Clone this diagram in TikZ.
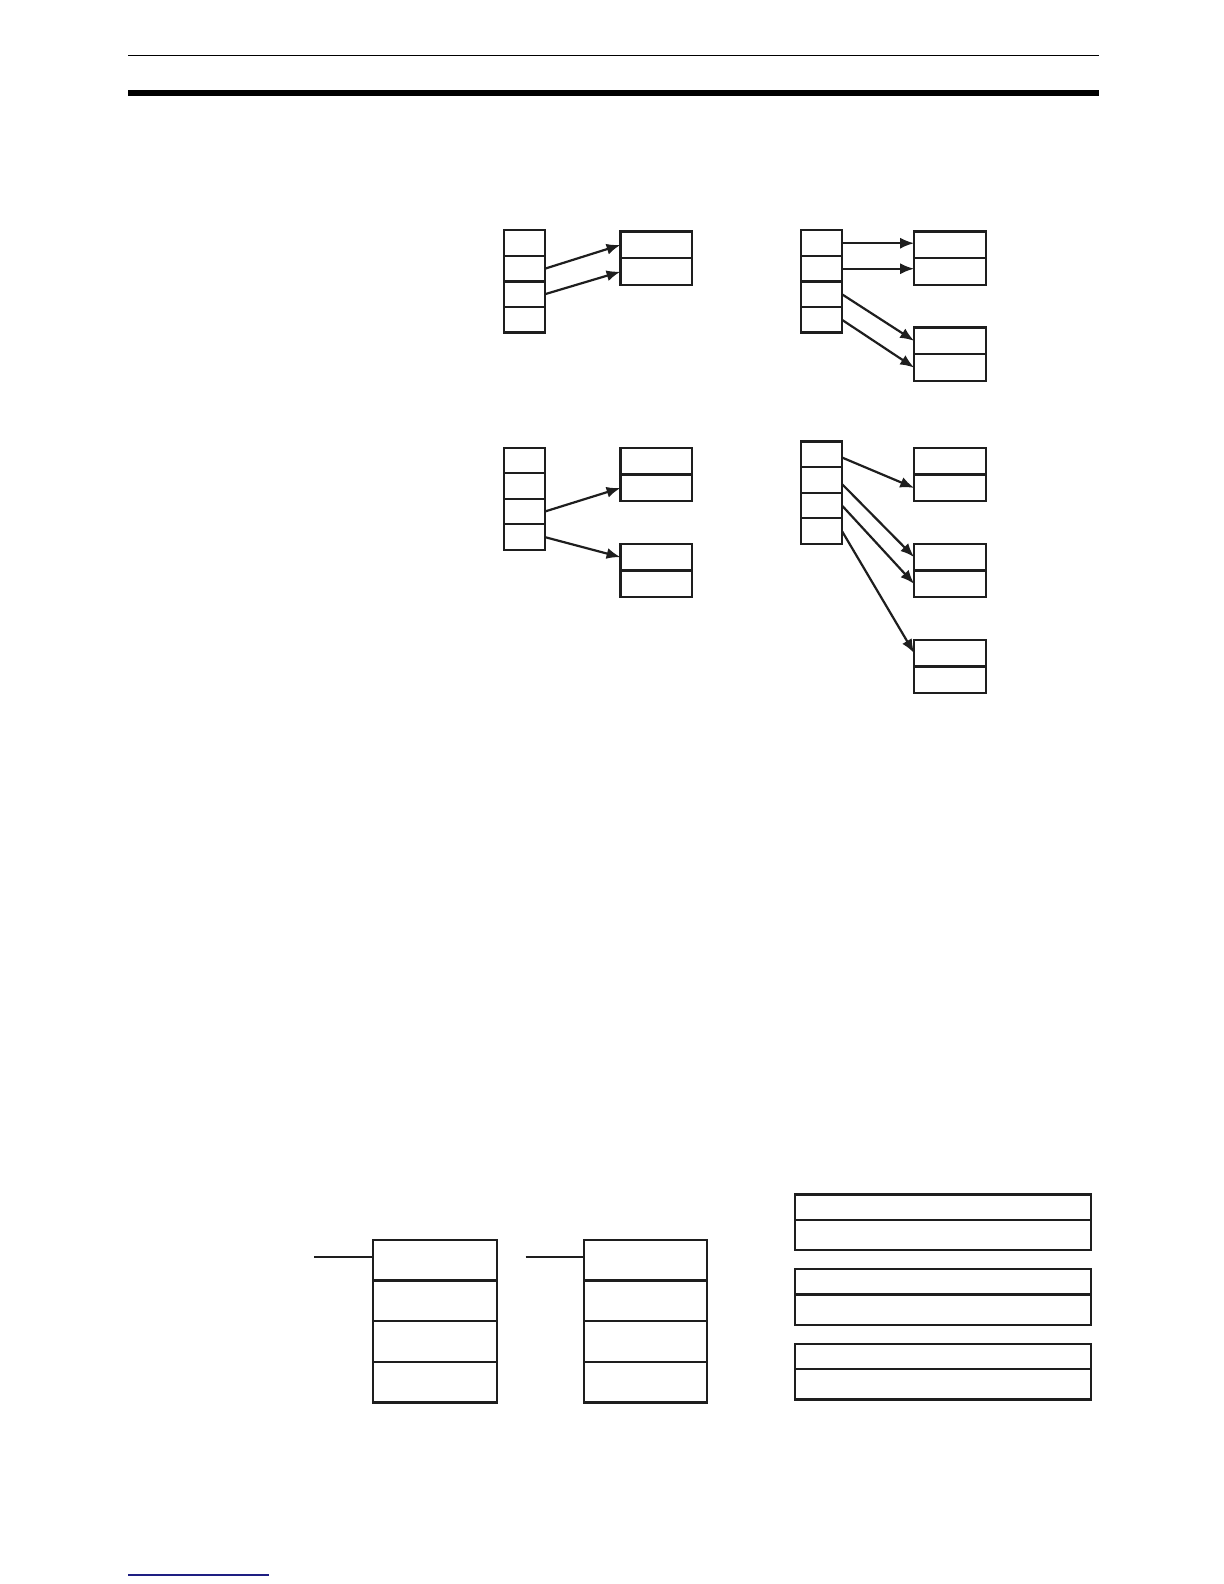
\documentclass[tikz,border=0pt]{standalone}
\usetikzlibrary{arrows.meta}
\definecolor{navyline}{RGB}{30,30,130}
\definecolor{ink}{RGB}{30,30,30}
\begin{document}
\begin{tikzpicture}[x=0.5pt,y=-0.5pt,
  cell/.style={draw=ink, line width=1.1pt, inner sep=0pt, outer sep=0pt, minimum width=20pt, minimum height=12.625pt},
  brow/.style={draw=ink, line width=1.1pt, inner sep=0pt, outer sep=0pt, minimum width=35.5pt, minimum height=13.25pt},
  bigcell/.style={draw=ink, line width=1.1pt, inner sep=0pt, outer sep=0pt, minimum width=61.5pt, minimum height=20.125pt},
  widetop/.style={draw=ink, line width=1.1pt, inner sep=0pt, outer sep=0pt, minimum width=146.5pt, minimum height=12.5pt},
  widebot/.style={draw=ink, line width=1.1pt, inner sep=0pt, outer sep=0pt, minimum width=146.5pt, minimum height=15pt},
  arr/.style={draw=ink, line width=1.1pt, -{Latex[length=7pt,width=5.5pt]}},
  lead/.style={draw=ink, line width=1.1pt}]
\useasboundingbox (0,0) rectangle (1224,1584);
% footer rule
\draw[navyline, line width=1pt] (128,1575) -- (269,1575);
\begin{scope}[scale=1.0105, transform shape]
% header rules
\draw[line width=0.75pt] (127,55) -- (1088,55);
\fill (127,89) rectangle (1088,95);

% ---- Group A ----
\foreach \i/\y in {1/240.625,2/265.875,3/291.125,4/316.375}{\node[cell] (A\i) at (519,\y) {};}
\node[brow] (AX1) at (649.5,242.25) {};
\node[brow] (AX2) at (649.5,268.75) {};
\draw[arr] (A2.east) -- (AX1.west);
\draw[arr] (A3.east) -- (AX2.west);

% ---- Group B ----
\foreach \i/\y in {1/240.625,2/265.875,3/291.125,4/316.375}{\node[cell] (B\i) at (813,\y) {};}
\node[brow] (BX1) at (940,242.25) {};
\node[brow] (BX2) at (940,268.75) {};
\node[brow] (BY1) at (940,337.25) {};
\node[brow] (BY2) at (940,363.75) {};
\draw[arr] (B1.east) -- (B1.east -| BX1.west);
\draw[arr] (B2.east) -- (B2.east -| BX2.west);
\draw[arr] (B3.east) -- (BY1.west);
\draw[arr] (B4.east) -- (BY2.west);

% ---- Group C ----
\foreach \i/\y in {1/455.625,2/480.875,3/506.125,4/531.375}{\node[cell] (C\i) at (519,\y) {};}
\node[brow] (CX1) at (649.5,456.25) {};
\node[brow] (CX2) at (649.5,482.75) {};
\node[brow] (CY1) at (649.5,551.25) {};
\node[brow] (CY2) at (649.5,577.75) {};
\draw[arr] (C3.east) -- (CX2.west);
\draw[arr] (C4.east) -- (CY1.west);

% ---- Group D ----
\foreach \i/\y in {1/449.625,2/474.875,3/500.125,4/525.375}{\node[cell] (D\i) at (813,\y) {};}
\node[brow] (DX1) at (940,456.25) {};
\node[brow] (DX2) at (940,482.75) {};
\node[brow] (DY1) at (940,551.25) {};
\node[brow] (DY2) at (940,577.75) {};
\node[brow] (DZ1) at (940,646.25) {};
\node[brow] (DZ2) at (940,672.75) {};
\draw[arr] ([yshift=-1.5pt]D1.east) -- (DX2.west);
\draw[arr] ([yshift=-2pt]D2.east) -- (DY1.west);
\draw[arr] (D3.east) -- (DY2.west);
\draw[arr] (D4.east) -- (DZ1.west);

% ---- Bottom stacks ----
\foreach \i/\y in {1/1247.125,2/1287.375,3/1327.625,4/1367.875}{
  \node[bigcell] (E\i) at (430.5,\y) {};
  \node[bigcell, minimum width=61pt] (F\i) at (639,\y) {};
}
\coordinate (Ein) at (311,1244);
\coordinate (Fin) at (520,1244);
\draw[lead] (Ein) -- (Ein -| E1.west);
\draw[lead] (Fin) -- (Fin -| F1.west);

% ---- Right wide boxes ----
\node[widetop] (G1a) at (933.5,1194.5) {};
\node[widebot] (G1b) at (933.5,1222) {};
\node[widetop] (G2a) at (933.5,1268.5) {};
\node[widebot] (G2b) at (933.5,1296) {};
\node[widetop] (G3a) at (933.5,1342.5) {};
\node[widebot] (G3b) at (933.5,1370) {};
\end{scope}
\end{tikzpicture}
\end{document}
